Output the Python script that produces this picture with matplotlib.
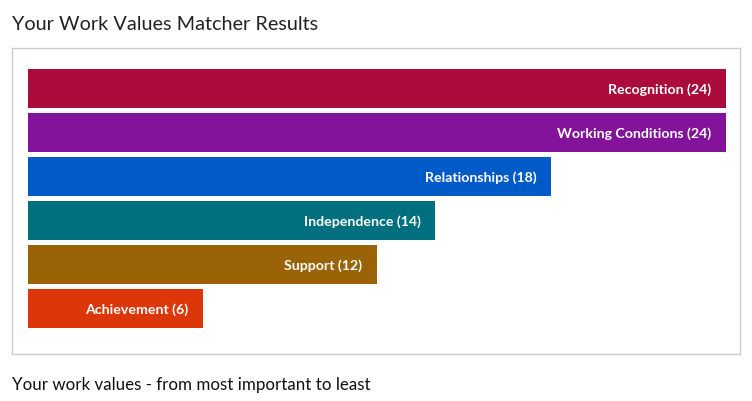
import matplotlib.pyplot as plt

# work values, most important first
values = ['Recognition', 'Working Conditions', 'Relationships', 'Independence', 'Support', 'Achievement']
scores = [24, 24, 18, 14, 12, 6]
colors = ['#AB0C3C', '#84139C', '#005BC8', '#006F7E', '#9A6406', '#DD3608']

plt.rcParams['font.family'] = ['Lato', 'DejaVu Sans']

fig = plt.figure(figsize=(7.52, 4.02), dpi=100)
W, H = 752, 402

# box around bars: x 12..740, y 49..355 (pixels)
ax = fig.add_axes([12 / W, 1 - 355 / H, 728 / W, 306 / H])

pos = list(range(len(values)))
ax.barh(pos, scores, height=39 / 44, color=colors)

for i in pos:
    ax.text(scores[i] - 0.5, i, f'{values[i]} ({scores[i]})', color='white',
            ha='right', va='center', fontsize=10.2, fontweight='bold')

ax.set_xlim(-16 / 29.083, 24 + 14 / 29.083)
ax.set_ylim(5 + 45.5 / 44, -40.5 / 44)
ax.set_xticks([])
ax.set_yticks([])
for s in ax.spines.values():
    s.set_color('#CCCCCC')
    s.set_linewidth(1)

fig.text(12 / W, 1 - 24 / H, 'Your Work Values Matcher Results', fontsize=14.3,
         color='#222222', va='center', ha='left')
fig.text(12 / W, 1 - 385 / H, 'Your work values - from most important to least', fontsize=12.2,
         color='#111111', va='center', ha='left')

fig.savefig('out.png', dpi=100)
